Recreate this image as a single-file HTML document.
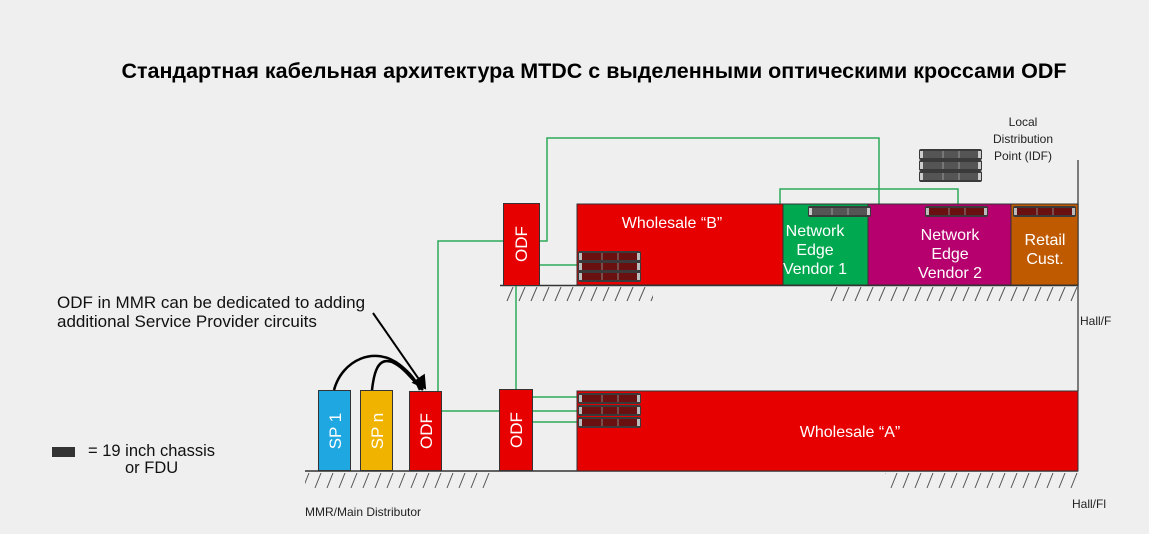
<!DOCTYPE html>
<html><head><meta charset="utf-8"><style>
html,body{margin:0;padding:0;background:#efefef;}
svg{display:block;}
text{font-family:"Liberation Sans",sans-serif;}
</style></head><body>
<svg width="1149" height="534" viewBox="0 0 1149 534" xmlns="http://www.w3.org/2000/svg">
<defs>
<g id="ch">
<rect x="0" y="0" width="63" height="11" rx="2" fill="#3a3a3a"/>
<rect x="4" y="2" width="55" height="7" fill="#6a1010"/>
<line x1="24" y1="2" x2="24" y2="9" stroke="#888" stroke-width="1"/>
<line x1="40" y1="2" x2="40" y2="9" stroke="#888" stroke-width="1"/>
<rect x="1" y="2" width="3" height="7" fill="#bbb"/>
<rect x="59" y="2" width="3" height="7" fill="#bbb"/>
</g>
<g id="chg">
<rect x="0" y="0" width="63" height="11" rx="2" fill="#3a3a3a"/>
<rect x="4" y="2" width="55" height="7" fill="#555"/>
<line x1="24" y1="2" x2="24" y2="9" stroke="#999"/>
<line x1="40" y1="2" x2="40" y2="9" stroke="#999"/>
<rect x="1" y="2" width="3" height="7" fill="#ccc"/>
<rect x="59" y="2" width="3" height="7" fill="#ccc"/>
</g>
<pattern id="hatchU" x="0" y="287" width="12" height="15" patternUnits="userSpaceOnUse">
<line x1="9" y1="0" x2="3" y2="14" stroke="#555" stroke-width="1"/>
</pattern>
<pattern id="hatchL" x="0" y="473" width="12" height="16" patternUnits="userSpaceOnUse">
<line x1="9" y1="0" x2="3" y2="15" stroke="#555" stroke-width="1"/>
</pattern>
<marker id="arr" markerWidth="8" markerHeight="8" refX="6" refY="4" orient="auto"><path d="M0,0 L7,4 L0,8 z" fill="#000"/></marker>
</defs>

<text x="594" y="78" text-anchor="middle" font-size="21.5" font-weight="bold" fill="#000">Стандартная кабельная архитектура MTDC с выделенными оптическими кроссами ODF</text>

<!-- hatching -->
<rect x="505" y="287" width="148" height="15" fill="url(#hatchU)"/>
<rect x="828" y="287" width="250" height="15" fill="url(#hatchU)"/>
<rect x="305" y="473" width="186" height="16" fill="url(#hatchL)"/>
<rect x="885" y="473" width="193" height="16" fill="url(#hatchL)"/>
<line x1="1078" y1="160" x2="1078" y2="391" stroke="#555" stroke-width="1.5"/>
<line x1="500" y1="285.5" x2="1078" y2="285.5" stroke="#333" stroke-width="1.5"/>
<line x1="305" y1="471" x2="1078" y2="471" stroke="#333" stroke-width="1.5"/>

<!-- green lines -->
<g stroke="#2eaa5a" stroke-width="1.5" fill="none">
<polyline points="539,241 547,241 547,138 879,138 879,207"/>
<polyline points="780,207 780,189 958,189 958,207"/>
<polyline points="503,241 438,241 438,391"/>
<line x1="539" y1="265" x2="577" y2="265"/>
<line x1="516" y1="285" x2="516" y2="389"/>
<line x1="441" y1="411" x2="499" y2="411"/>
<line x1="532" y1="397" x2="578" y2="397"/>
<line x1="532" y1="411" x2="578" y2="411"/>
<line x1="532" y1="422" x2="578" y2="422"/>
</g>

<!-- upper row -->
<rect x="503.5" y="203.5" width="36" height="82" fill="#e60000" stroke="#333"/>
<text transform="translate(527,244) rotate(-90)" text-anchor="middle" font-size="17" fill="#fff">ODF</text>
<rect x="577" y="204" width="206" height="81" fill="#e60000" stroke="#333"/>
<rect x="783" y="204" width="85" height="81" fill="#00a84f" stroke="#333"/>
<rect x="868" y="204" width="143" height="81" fill="#b5006e" stroke="#333"/>
<rect x="1011" y="204" width="67" height="81" fill="#c05a00" stroke="#333"/>
<text x="672" y="228" text-anchor="middle" font-size="16" fill="#fff">Wholesale “B”</text>
<text x="815" y="236" text-anchor="middle" font-size="16" fill="#fff">Network</text>
<text x="815" y="255" text-anchor="middle" font-size="16" fill="#fff">Edge</text>
<text x="815" y="274" text-anchor="middle" font-size="16" fill="#fff">Vendor 1</text>
<text x="950" y="240" text-anchor="middle" font-size="16" fill="#fff">Network</text>
<text x="950" y="259" text-anchor="middle" font-size="16" fill="#fff">Edge</text>
<text x="950" y="278" text-anchor="middle" font-size="16" fill="#fff">Vendor 2</text>
<text x="1045" y="245" text-anchor="middle" font-size="16" fill="#fff">Retail</text>
<text x="1045" y="264" text-anchor="middle" font-size="16" fill="#fff">Cust.</text>
<use href="#ch" x="578" y="251"/><use href="#ch" x="578" y="261"/><use href="#ch" x="578" y="271"/>
<use href="#chg" x="808" y="206"/>
<use href="#ch" x="925" y="206"/>
<use href="#ch" x="1013" y="206"/>
<use href="#chg" x="919" y="149"/><use href="#chg" x="919" y="160"/><use href="#chg" x="919" y="171"/>
<text x="1023" y="126" text-anchor="middle" font-size="12" fill="#222">Local</text>
<text x="1023" y="143" text-anchor="middle" font-size="12" fill="#222">Distribution</text>
<text x="1023" y="160" text-anchor="middle" font-size="12" fill="#222">Point (IDF)</text>
<text x="1080" y="325" font-size="12" fill="#222">Hall/F</text>
<text x="1072" y="508" font-size="12" fill="#222">Hall/Fl</text>

<!-- lower row -->
<rect x="577" y="391" width="501" height="80" fill="#e60000" stroke="#333"/>
<text x="850" y="437" text-anchor="middle" font-size="16" fill="#fff">Wholesale “A”</text>
<use href="#ch" x="578" y="393"/><use href="#ch" x="578" y="405"/><use href="#ch" x="578" y="417"/>
<rect x="499.5" y="389.5" width="33" height="81" fill="#e60000" stroke="#333"/>
<text transform="translate(522,430) rotate(-90)" text-anchor="middle" font-size="17" fill="#fff">ODF</text>
<rect x="409.5" y="391.5" width="32" height="79" fill="#e60000" stroke="#333"/>
<text transform="translate(432,431) rotate(-90)" text-anchor="middle" font-size="17" fill="#fff">ODF</text>
<rect x="318.5" y="390.5" width="32" height="80" fill="#1ea7e0" stroke="#333"/>
<text transform="translate(341,431) rotate(-90)" text-anchor="middle" font-size="17" fill="#fff">SP 1</text>
<rect x="360.5" y="390.5" width="32" height="80" fill="#f0b400" stroke="#333"/>
<text transform="translate(383,431) rotate(-90)" text-anchor="middle" font-size="17" fill="#fff">SP n</text>

<!-- black curves -->
<g stroke="#000" stroke-width="2.5" fill="none">
<path d="M334,390 C342,360 375,345 400,365 C410,373 416,380 420,390"/>
<path d="M372,390 C374,372 378,357 392,362 C405,368 412,380 423,390"/>
<path d="M373,313 L425,388" marker-end="url(#arr)" stroke-width="2"/>
</g>

<text x="57" y="308" font-size="17" fill="#111">ODF in MMR can be dedicated to adding</text>
<text x="57" y="327" font-size="17" fill="#111">additional Service Provider circuits</text>
<rect x="52" y="447" width="23" height="10" fill="#333"/>
<text x="88" y="456" font-size="16.5" fill="#111">= 19 inch chassis</text>
<text x="125" y="473" font-size="16.5" fill="#111">or FDU</text>
<text x="305" y="516" font-size="12" fill="#222">MMR/Main Distributor</text>
</svg>
</body></html>
